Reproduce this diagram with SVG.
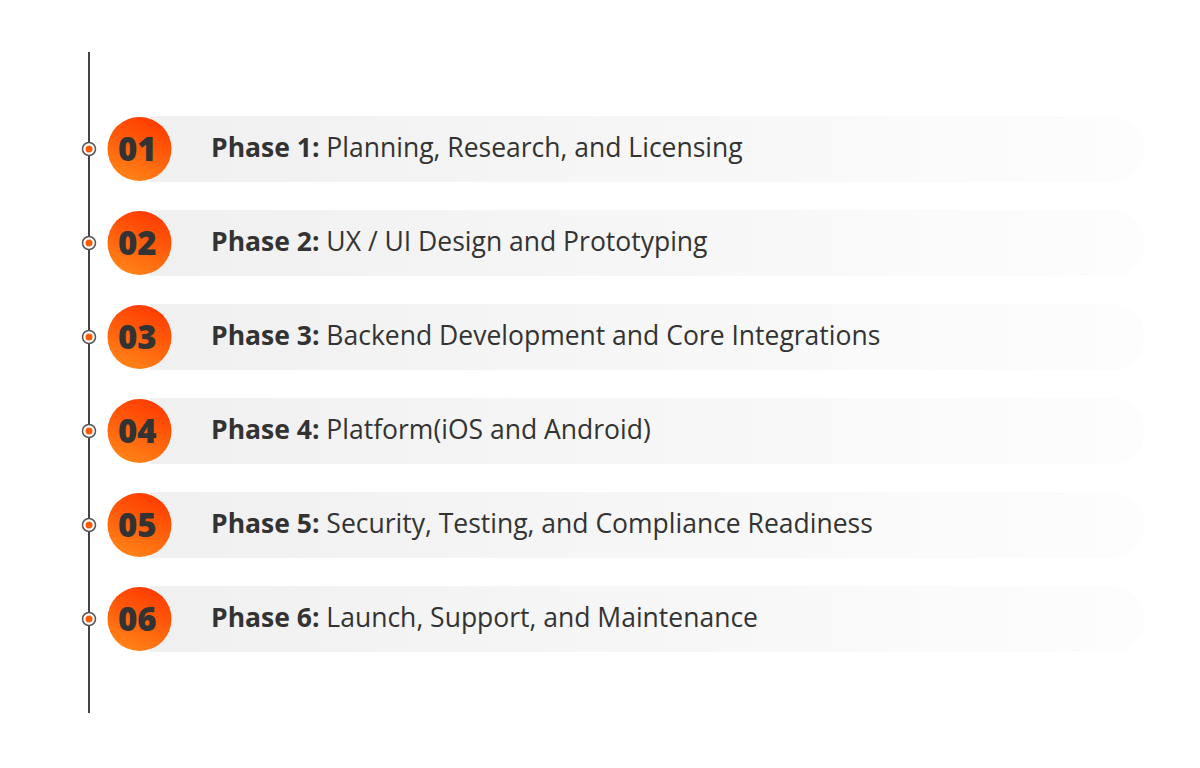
<svg xmlns="http://www.w3.org/2000/svg" width="1200" height="768" viewBox="0 0 1200 768">
<defs>
<linearGradient id="bar" x1="0" y1="0" x2="1" y2="0">
<stop offset="0" stop-color="#f0f0f0"/>
<stop offset="1" stop-color="#fdfdfd"/>
</linearGradient>
<linearGradient id="ball" x1="0.7" y1="0" x2="0.3" y2="1">
<stop offset="0" stop-color="#ff3a00"/>
<stop offset="1" stop-color="#ff8417"/>
</linearGradient>
<style>
.bar{fill:url(#bar)}
.ball{fill:url(#ball)}
.num{font-family:"Open Sans",sans-serif;font-weight:800;font-size:33px;fill:#333}
.lbl{font-family:"Open Sans",sans-serif;font-size:26.5px;fill:#333}
.b{font-weight:700}
.dot{fill:#fff;stroke:#555;stroke-width:1.5}
.dotin{fill:#ff5a00}
</style>
</defs>
<rect width="1200" height="768" fill="#fff"/>
<g id="connectors">
<line x1="89" y1="52" x2="89" y2="713" stroke="#444" stroke-width="2"/>
</g>
<g id="phase1">
<path class="bar" d="M150 116 H1112 A33 33 0 0 1 1112 182 H150 Z"/>
<circle class="dot" cx="89" cy="149" r="6.5"/><circle class="dotin" cx="89" cy="149" r="3.5"/>
<circle class="ball" cx="139.5" cy="149" r="32"/>
<text class="num" x="118" y="161">01</text>
<text class="lbl" x="211" y="157"><tspan class="b">Phase 1:</tspan> Planning, Research, and Licensing</text>
</g>
<g id="phase2">
<path class="bar" d="M150 210 H1112 A33 33 0 0 1 1112 276 H150 Z"/>
<circle class="dot" cx="89" cy="243" r="6.5"/><circle class="dotin" cx="89" cy="243" r="3.5"/>
<circle class="ball" cx="139.5" cy="243" r="32"/>
<text class="num" x="118" y="255">02</text>
<text class="lbl" x="211" y="251"><tspan class="b">Phase 2:</tspan> UX / UI Design and Prototyping</text>
</g>
<g id="phase3">
<path class="bar" d="M150 304 H1112 A33 33 0 0 1 1112 370 H150 Z"/>
<circle class="dot" cx="89" cy="337" r="6.5"/><circle class="dotin" cx="89" cy="337" r="3.5"/>
<circle class="ball" cx="139.5" cy="337" r="32"/>
<text class="num" x="118" y="349">03</text>
<text class="lbl" x="211" y="345"><tspan class="b">Phase 3:</tspan> Backend Development and Core Integrations</text>
</g>
<g id="phase4">
<path class="bar" d="M150 398 H1112 A33 33 0 0 1 1112 464 H150 Z"/>
<circle class="dot" cx="89" cy="431" r="6.5"/><circle class="dotin" cx="89" cy="431" r="3.5"/>
<circle class="ball" cx="139.5" cy="431" r="32"/>
<text class="num" x="118" y="443">04</text>
<text class="lbl" x="211" y="439"><tspan class="b">Phase 4:</tspan> Platform(iOS and Android)</text>
</g>
<g id="phase5">
<path class="bar" d="M150 492 H1112 A33 33 0 0 1 1112 558 H150 Z"/>
<circle class="dot" cx="89" cy="525" r="6.5"/><circle class="dotin" cx="89" cy="525" r="3.5"/>
<circle class="ball" cx="139.5" cy="525" r="32"/>
<text class="num" x="118" y="537">05</text>
<text class="lbl" x="211" y="533"><tspan class="b">Phase 5:</tspan> Security, Testing, and Compliance Readiness</text>
</g>
<g id="phase6">
<path class="bar" d="M150 586 H1112 A33 33 0 0 1 1112 652 H150 Z"/>
<circle class="dot" cx="89" cy="619" r="6.5"/><circle class="dotin" cx="89" cy="619" r="3.5"/>
<circle class="ball" cx="139.5" cy="619" r="32"/>
<text class="num" x="118" y="631">06</text>
<text class="lbl" x="211" y="627"><tspan class="b">Phase 6:</tspan> Launch, Support, and Maintenance</text>
</g>
</svg>
